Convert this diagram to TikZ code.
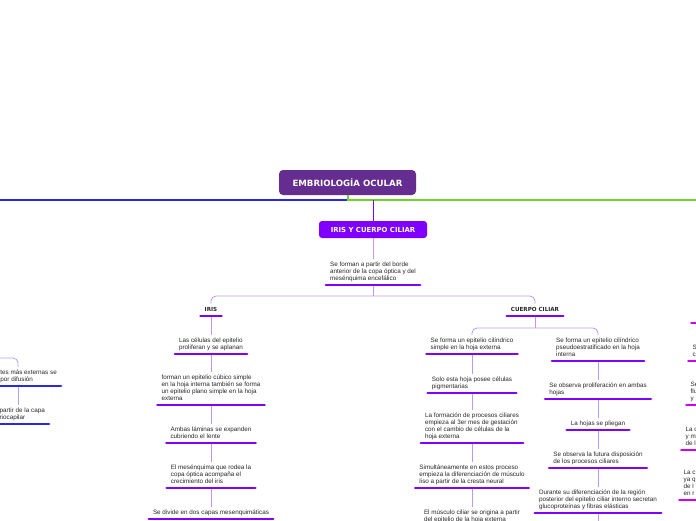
\documentclass[tikz,border=0pt]{standalone}
\usepackage{fontspec}
\setmainfont{Liberation Sans}
\newfontfamily\headfont{DejaVu Sans}
\usepackage{tikz}
\usetikzlibrary{calc}

\definecolor{rootpurple}{RGB}{102,45,145}
\definecolor{mmviolet}{RGB}{128,0,255}
\definecolor{mmlav}{RGB}{186,150,255}
\definecolor{mmblue}{RGB}{40,40,235}
\definecolor{mmlblue}{RGB}{165,165,255}
\definecolor{mmgreen}{RGB}{110,212,40}
\definecolor{mmmag}{RGB}{205,0,240}

\begin{document}
\begin{tikzpicture}[
  x=1pt, y=-1pt,
  rootbox/.style={rectangle, rounded corners=4pt, fill=rootpurple, text=white, font=\headfont\bfseries\fontsize{8.6}{10}\selectfont, minimum width=137pt, minimum height=25pt},
  mainbox/.style={rectangle, rounded corners=3pt, fill=mmviolet, text=white, font=\headfont\bfseries\fontsize{6.9}{8}\selectfont, minimum width=108pt, minimum height=17pt},
  topic/.style={align=left, anchor=south, font=\fontsize{6.3}{7}\selectfont, inner xsep=4pt, inner ysep=3pt, text depth=1pt, text=black!85},
  branch/.style={topic, inner ysep=3.2pt, text depth=1.5pt, font=\headfont\bfseries\fontsize{5.6}{7}\selectfont},
  edgetopic/.style={topic, anchor=south west},
  conn/.style={draw=mmlav, line width=0.8pt},
  bar/.style={line width=2.8pt, line cap=round},
]
  \useasboundingbox (0,0) rectangle (696,520);
  \clip (0,0) rectangle (696,520);

  % main topics
  \node[rootbox] (root) at (347.5,182.5) {EMBRIOLOGÍA OCULAR};
  \node[mainbox] (tema) at (373,229.5) {IRIS Y CUERPO CILIAR};
  \node[topic] (origen) at (373,285) {Se forman a partir del borde\\anterior de la copa óptica y del\\mesénquima encefálico};

  % iris
  \node[branch] (iris) at (211,316) {IRIS};
  \node[topic] (iris1) at (211,354) {Las células del epitelio\\proliferan y se aplanan};
  \node[topic] (iris2) at (211,405) {forman un epitelio cúbico simple\\en la hoja interna también se forma\\un epitelio plano simple en la hoja\\externa};
  \node[topic] (iris3) at (211,443) {Ambas láminas se expanden\\cubriendo el lente};
  \node[topic] (iris4) at (211,488) {El mesénquima que rodea la\\copa óptica acompaña el\\crecimiento del iris};
  \node[topic] (iris5) at (211,519) {Se divide en dos capas mesenquimáticas};

  % cuerpo ciliar
  \node[branch] (cc) at (535,316) {CUERPO CILIAR};
  \node[topic] (ccl1) at (472,354) {Se forma un epitelio cilíndrico\\simple en la hoja externa};
  \node[topic] (ccl2) at (472,393) {Solo esta hoja posee células\\pigmentarias};
  \node[topic] (ccl3) at (472,443) {La formación de procesos ciliares\\empieza al 3er mes de gestación\\con el cambio de células de la\\hoja externa};
  \node[topic] (ccl4) at (472,488) {Simultáneamente en estos proceso\\empieza la diferenciación de músculo\\liso a partir de la cresta neural};
  \node[topic] (ccl5) at (472,526) {El músculo ciliar se origina a partir\\del epitelio de la hoja externa};
  \node[topic] (ccr1) at (598,361) {Se forma un epitelio cilíndrico\\pseudoestratificado en la hoja\\interna};
  \node[topic] (ccr2) at (598,399) {Se observa proliferación en ambas\\hojas};
  \node[topic] (ccr3) at (598,430) {La hojas se pliegan};
  \node[topic] (ccr4) at (598,468) {Se observa la futura disposición\\de los procesos ciliares};
  \node[topic] (ccr5) at (598,513) {Durante su diferenciación de la región\\posterior del epitelio ciliar interno secretan\\glucoproteínas y fibras elásticas};

  % cut-off branches at the edges
  \node[topic, anchor=south east] (lb1) at (61,386) {tes más externas se\\por difusión};
  \node[topic, anchor=south east] (lb2) at (49,424) {partir de la capa\\riocapilar};
  \node[edgetopic] (rm1) at (691.4,323) {};
  \node[edgetopic] (rm2) at (688.4,361) {S\\c};
  \node[edgetopic] (rm3) at (686.4,405) {Se\\flu\\y};
  \node[edgetopic] (rm4) at (681.4,450) {La c\\y m\\de l};
  \node[edgetopic] (rm5) at (679.4,500) {La c\\ya q\\de l\\en r};

  % connectors
  \coordinate (hub) at (348,200);
  \coordinate (westend) at (-4,200);
  \coordinate (eastend) at (700,200);
  \draw[mmblue, line width=1.5pt] (hub) -- (westend);
  \draw[mmgreen, line width=1.5pt] (root.south -| hub) -- (hub) -- (eastend);
  \draw[mmviolet, line width=1pt] (tema.north |- hub) -- (tema.north);
  \draw[conn] (tema.south) -- (origen.north);

  \coordinate (fork1) at (373,296);
  \draw[conn] (origen.south) -- (fork1);
  \draw[conn, rounded corners=5pt] (iris.north) |- (fork1) -| (cc.north);
  \coordinate (fork2) at (535,328);
  \draw[conn] (cc.south) -- (fork2);
  \draw[conn, rounded corners=5pt] (ccl1.north) |- (fork2) -| (ccr1.north);

  \draw[conn] (iris.south) -- (iris1.north);
  \foreach \a/\b in {iris1/iris2, iris2/iris3, iris3/iris4, iris4/iris5,
                     ccl1/ccl2, ccl2/ccl3, ccl3/ccl4, ccl4/ccl5,
                     ccr1/ccr2, ccr2/ccr3, ccr3/ccr4, ccr4/ccr5}
    \draw[conn] (\a.south) -- (\b.north);
  \coordinate (ccrout) at (598,530);
  \draw[conn] (ccr5.south) -- (ccrout);

  \coordinate (lbin) at (-6,358);
  \coordinate (lbx) at (18,0);
  \draw[conn, draw=mmlblue, rounded corners=5pt] (lbin) -| (lb1.north -| lbx);
  \draw[conn, draw=mmlblue] (lb1.south -| lbx) -- (lb2.north -| lbx);

  % bars under the topics
  \foreach \n in {origen, iris, iris1, iris2, iris3, iris4, iris5, cc,
                  ccl1, ccl2, ccl3, ccl4, ccl5, ccr1, ccr2, ccr3, ccr4, ccr5}
    \draw[bar, mmviolet] (\n.south west) -- (\n.south east);
  \foreach \n in {lb1, lb2}
    \draw[bar, mmblue] (\n.south west) -- (\n.south east);
  \foreach \n in {rm1, rm2, rm3, rm4, rm5}
    \draw[bar, mmmag] (\n.south west) -- (\n.south west -| eastend);
\end{tikzpicture}
\end{document}
